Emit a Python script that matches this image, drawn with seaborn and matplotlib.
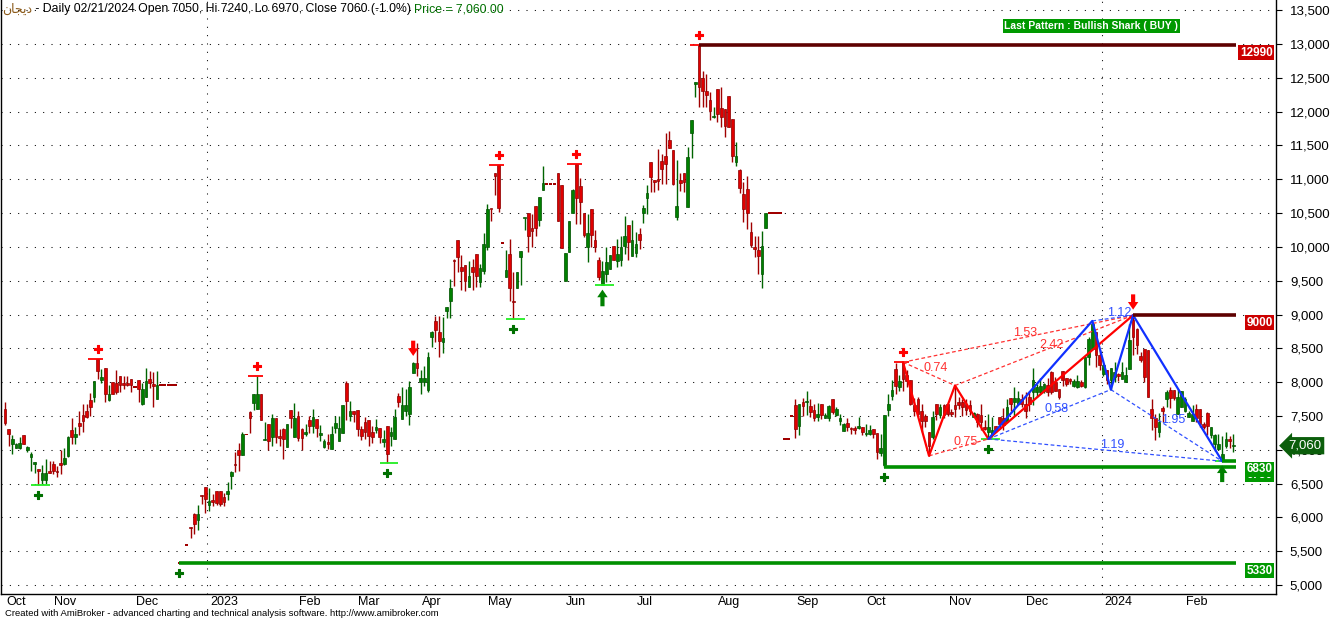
import numpy as np
import pandas as pd
import seaborn as sns
import matplotlib.pyplot as plt
from matplotlib import transforms

# month axis: first bar of each month and its label
month_labels = ['Oct', 'Nov', 'Dec', '2023', 'Feb', 'Mar', 'Apr', 'May', 'Jun',
                'Jul', 'Aug', 'Sep', 'Oct', 'Nov', 'Dec', '2024', 'Feb']
month_start = [0, 13, 35, 55, 79, 95, 112, 130, 151, 170, 192, 213, 232, 254, 275, 296, 318]
year_start = [55, 296]

# daily OHLC, one line per month
opens = [7600, 7300, 7090, 7020, 7020, 7220, 6990, 6900, 6795, 6710, 6560, 6560, 6690,
         6795, 6690, 6800, 6785, 6910, 7290, 7190, 7400, 7515, 7575, 7730, 7785, 8340, 8030, 8205, 7730, 8005, 7990, 8090, 7990, 7990, 8040,
         7930, 8025, 7670, 7785, 8040, 7970, 7755, 7960, 7960, 7960, 7960, 7960, 5330, 5330, 5590, 5860, 6050, 5955, 6335, 6445,
         6180, 6250, 6385, 6395, 6300, 6345, 6610, 6780, 6995, 6920, 7228, 7565, 7695, 7600, 7820, 7150, 7385, 7190, 7465, 7205, 7300, 7040, 7585, 7190,
         7500, 7300, 7240, 7435, 7350, 7450, 7220, 7040, 7120, 7005, 7325, 7130, 7255, 7990, 7505, 7580,
         7590, 7305, 7405, 7440, 7270, 7295, 7320, 7110, 7355, 7210, 7160, 7800, 7455, 7570, 7530, 8130, 8280,
         7995, 7995, 7885, 8670, 8900, 8735, 8590, 9055, 9205, 9805, 10100, 9705, 9730, 9400, 9705, 9895, 9475, 9650,
         10000, 10565, 11090, 11205, 10060, 9555, 9900, 9200, 9395, 9850, 10425, 10505, 10280, 10600, 10395, 10835, 10933, 10933, 10933, 11090, 10910,
         9495, 9920, 10500, 11220, 10895, 10505, 9995, 10565, 10105, 9810, 9430, 9600, 9675, 10020, 9790, 9800, 10020, 10330, 9860,
         9910, 10185, 10500, 10720, 11255, 10990, 11000, 11270, 11350, 11585, 11435, 10440, 10990, 11090, 10585, 11680, 12415, 12985, 12500, 12300, 12165, 11915,
         12335, 12055, 12040, 12235, 11890, 11250, 11130, 10785, 10855, 10225, 9995, 9960, 9600, 10280, 10500, 10500, 10500, 10500, 7160, 7160, 7500,
         7660, 7350, 7705, 7700, 7650, 7590, 7490, 7670, 7475, 7475, 7745, 7515, 7420, 7275, 7395, 7320, 7315, 7320, 7330,
         7240, 7240, 7305, 7250, 6950, 6770, 7590, 7800, 8200, 7925, 8295, 8100, 8025, 7655, 7755, 7580, 7505, 7270, 7185, 7680, 7520, 7655,
         7680, 7555, 7655, 7705, 7705, 7670, 7655, 7490, 7530, 7520, 7330, 7260, 7225, 7355, 7490, 7470, 7405, 7765, 7705, 7670, 7755,
         7680, 7775, 7850, 7850, 7850, 7875, 7965, 8150, 8000, 7900, 8160, 8065, 8050, 7950, 7925, 8000, 7925, 8370, 8495, 8745, 8395,
         8125, 8175, 8025, 8075, 8115, 8050, 8000, 8200, 8925, 8790, 8380, 8495, 8480, 7605, 7470, 7260, 7620, 7755, 7885, 7885, 7530, 7630,
         7580, 7490, 7430, 7605, 7605, 7380, 7540, 7225, 7085, 7010, 6840, 7060, 7160, 7050]
highs = [7700, 7300, 7220, 7100, 7190, 7220, 7055, 6970, 6820, 6710, 6775, 6860, 6830,
         6835, 6760, 6990, 7030, 7200, 7465, 7330, 7580, 7670, 7670, 7845, 8015, 8340, 8200, 8205, 7960, 8005, 8175, 8090, 8090, 8090, 8040,
         7930, 8025, 7990, 8205, 8165, 8155, 8165, 7960, 7960, 7960, 7960, 7960, 5330, 5330, 5590, 5860, 6065, 6180, 6335, 6445,
         6435, 6350, 6385, 6395, 6360, 6525, 6680, 6960, 7105, 7270, 7228, 7575, 7830, 8090, 7820, 7415, 7385, 7525, 7465, 7300, 7325, 7385, 7585, 7695,
         7575, 7325, 7385, 7500, 7600, 7450, 7365, 7155, 7230, 7350, 7500, 7500, 7665, 8020, 7725, 7580,
         7590, 7355, 7490, 7440, 7355, 7455, 7320, 7285, 7355, 7330, 7605, 7835, 7925, 7900, 8020, 8305, 8575,
         8185, 8245, 8440, 8760, 8985, 8985, 8960, 9105, 9525, 9820, 10100, 9885, 9730, 9785, 9820, 9895, 9750, 10200,
         10640, 10565, 11090, 11205, 10060, 9955, 10120, 9625, 9625, 9945, 10430, 10505, 10490, 10600, 10745, 11190, 10933, 10933, 10933, 11090, 10910,
         9915, 10390, 10860, 11220, 11020, 10505, 10490, 10565, 10255, 9850, 9785, 10005, 9875, 10020, 10120, 10155, 10450, 10330, 10400,
         10220, 10280, 10625, 10910, 11255, 10990, 11450, 11375, 11680, 11720, 11435, 11280, 11090, 11090, 11480, 11870, 12435, 12985, 12595, 12555, 12285, 12075,
         12335, 12360, 12040, 12235, 11890, 11545, 11155, 10955, 11055, 10365, 10155, 10155, 10240, 10500, 10500, 10500, 10500, 10500, 7160, 7160, 7500,
         7745, 7670, 7770, 7865, 7745, 7670, 7685, 7670, 7550, 7660, 7745, 7635, 7535, 7390, 7475, 7340, 7355, 7485, 7340,
         7380, 7365, 7305, 7250, 7235, 7515, 7830, 8025, 8280, 8100, 8295, 8175, 8025, 7765, 7785, 7680, 7530, 7270, 7580, 7680, 7680, 7680,
         7680, 7605, 7950, 7775, 7755, 7755, 7730, 7555, 7540, 7670, 7440, 7530, 7490, 7355, 7490, 7620, 7755, 7765, 7925, 7875, 7825,
         7850, 7875, 8215, 7975, 8065, 7985, 8065, 8165, 8075, 7900, 8160, 8065, 8065, 8050, 8100, 8025, 8370, 8670, 8905, 8745, 8470,
         8270, 8175, 8215, 8295, 8135, 8295, 8225, 8865, 8990, 8805, 8450, 8495, 8480, 7755, 7530, 7540, 7640, 7885, 7925, 7885, 7900, 7875,
         7775, 7580, 7655, 7680, 7605, 7405, 7555, 7340, 7235, 7235, 7210, 7260, 7200, 7240]
lows = [7370, 7060, 6940, 7020, 7005, 7080, 6970, 6690, 6660, 6475, 6490, 6490, 6660,
        6635, 6600, 6640, 6775, 6900, 7080, 7080, 7220, 7265, 7465, 7500, 7710, 8040, 7990, 7710, 7720, 7820, 7820, 7860, 7900, 7945, 7860,
        7930, 7710, 7660, 7785, 7920, 7635, 7755, 7960, 7960, 7960, 7960, 7960, 5330, 5330, 5590, 5690, 5755, 5815, 6200, 6065,
        6090, 6175, 6180, 6175, 6165, 6255, 6420, 6670, 6686, 6920, 7228, 7255, 7585, 7600, 7435, 7150, 6990, 7055, 7105, 7055, 6860, 7040, 7315, 7190,
        7130, 6995, 7205, 7255, 7255, 7190, 7130, 7030, 7005, 7005, 7255, 7130, 7255, 7440, 7430, 7405,
        7210, 7145, 7160, 7060, 7095, 7245, 7095, 7035, 6805, 7060, 7160, 7625, 7455, 7505, 7370, 8130, 8095,
        7825, 7940, 7850, 8515, 8590, 8365, 8425, 8950, 8950, 9425, 9625, 9360, 9350, 9400, 9360, 9410, 9400, 9600,
        9950, 10390, 10760, 10515, 10060, 9555, 9200, 8935, 9395, 9430, 10245, 9920, 9995, 10165, 10310, 10835, 10933, 10933, 10933, 10380, 9985,
        9495, 9920, 10500, 10340, 10340, 10145, 9775, 9995, 9920, 9505, 9430, 9480, 9675, 9800, 9710, 9720, 9900, 9800, 9860,
        9850, 9970, 10350, 10490, 10810, 10810, 10845, 10925, 10925, 11465, 10910, 10400, 10825, 10810, 10585, 11315, 12210, 12075, 12075, 12075, 11875, 11905,
        11840, 11780, 11630, 11770, 11250, 11200, 10795, 10365, 10265, 9995, 9845, 9600, 9395, 10280, 10500, 10500, 10500, 10500, 7160, 7160, 7500,
        7175, 7220, 7500, 7515, 7485, 7420, 7420, 7455, 7470, 7430, 7525, 7500, 7370, 7275, 7280, 7235, 7235, 7305, 7225,
        7210, 7225, 7175, 6870, 6915, 6750, 7505, 7730, 7825, 7875, 7875, 7925, 7655, 7505, 7505, 7260, 7330, 6910, 7160, 7440, 7470, 7470,
        7505, 7505, 7480, 7605, 7505, 7520, 7520, 7480, 7330, 7285, 7285, 7160, 7185, 7260, 7305, 7290, 7405, 7580, 7505, 7655, 7630,
        7470, 7580, 7655, 7785, 7825, 7835, 7800, 7825, 7865, 7755, 7950, 7950, 7975, 7930, 7915, 7925, 7915, 8260, 8470, 8225, 8175,
        8085, 7975, 7890, 8000, 8015, 8050, 8000, 8200, 8395, 8420, 8300, 8000, 7775, 7285, 7145, 7185, 7405, 7630, 7620, 7730, 7530, 7630,
        7555, 7480, 7420, 7405, 7330, 7305, 7225, 7175, 6985, 6995, 6830, 7025, 7030, 6970]
closes = [7390, 7230, 7160, 7090, 7100, 7090, 7045, 6930, 6820, 6680, 6650, 6650, 6660,
          6680, 6670, 6775, 6880, 7190, 7190, 7240, 7350, 7425, 7485, 7630, 8015, 8165, 8080, 7820, 7830, 7820, 7860, 7960, 7960, 7960, 7960,
          7930, 7895, 7895, 8015, 7990, 7945, 7960, 7960, 7960, 7960, 7960, 7960, 5330, 5330, 5590, 5840, 5905, 6050, 6320, 6265,
          6240, 6230, 6215, 6200, 6230, 6385, 6670, 6770, 6920, 7240, 7228, 7475, 7830, 7830, 7435, 7160, 7130, 7475, 7190, 7180, 7155, 7385, 7475, 7475,
          7180, 7180, 7260, 7350, 7485, 7325, 7255, 7130, 7090, 7230, 7400, 7315, 7665, 7720, 7570, 7530,
          7305, 7210, 7260, 7210, 7185, 7340, 7185, 7165, 6940, 7260, 7490, 7700, 7655, 7655, 7935, 8280, 8205,
          8055, 8055, 8365, 8735, 8770, 8615, 8660, 9105, 9390, 9790, 9845, 9640, 9490, 9575, 9625, 9575, 9695, 10050,
          10560, 10560, 11045, 10580, 10060, 9660, 9395, 9180, 9625, 9945, 10430, 10155, 10235, 10280, 10745, 10945, 10933, 10933, 10933, 10380, 9985,
          9915, 10380, 10845, 10720, 10660, 10170, 10205, 10170, 9995, 9555, 9650, 9775, 9875, 9800, 9900, 10005, 10155, 10070, 10095,
          10045, 10095, 10580, 10795, 11030, 10960, 10970, 11155, 11230, 11465, 10935, 10600, 10945, 10960, 11335, 11870, 12435, 12360, 12300, 12250, 12005, 11940,
          11965, 11915, 11795, 11770, 11350, 11350, 10870, 10560, 10500, 10035, 9970, 9870, 10020, 10500, 10500, 10500, 10500, 10500, 7160, 7160, 7500,
          7305, 7670, 7640, 7705, 7565, 7475, 7525, 7515, 7515, 7645, 7565, 7600, 7470, 7380, 7330, 7305, 7290, 7350, 7260,
          7255, 7290, 7235, 6965, 7030, 7515, 7675, 7885, 7950, 8015, 8050, 8015, 7680, 7580, 7530, 7430, 7430, 7060, 7480, 7530, 7630, 7520,
          7530, 7530, 7605, 7655, 7630, 7590, 7570, 7540, 7405, 7405, 7305, 7340, 7290, 7285, 7380, 7370, 7630, 7680, 7765, 7765, 7670,
          7580, 7680, 8025, 7925, 7950, 7975, 7850, 7850, 7875, 7775, 8025, 7975, 8015, 8020, 8015, 7950, 8370, 8645, 8865, 8395, 8250,
          8250, 8025, 8215, 8150, 8085, 8150, 8110, 8630, 8670, 8545, 8320, 8075, 7785, 7470, 7330, 7405, 7580, 7850, 7765, 7765, 7775, 7875,
          7755, 7540, 7530, 7470, 7380, 7330, 7355, 7340, 7225, 7085, 6935, 7160, 7130, 7060]

# swing points found by the indicator (bar numbers)
peaks = [25, 68, 133, 154, 187, 242]
troughs = [9, 47, 103, 137, 237, 265]
trough_lines = [9, 103, 137, 161, 265, 328]
sell_arrows = [110, 304]
buy_arrows = [161, 328]

# harmonic patterns X, A, B, C, D
red_bars = [242, 249, 256, 265, 304]
red_prices = [8295, 6910, 7950, 7160, 8990]
red_ratios = ['0.74', '0.75', '2.42', '1.53']
blue_bars = [265, 293, 298, 304, 328]
blue_prices = [7160, 8905, 7890, 8990, 6830]
blue_ratios = ['0.58', '1.12', '1.95', '1.19']
ratio_legs = [(0, 2), (1, 3), (2, 4), (0, 4)]

# support / resistance levels
level_prices = [12990, 9000, 6750, 6830, 5330]
level_start = [187, 304, 237, 328, 47]
level_kind = ['res', 'res', 'sup', 'sup', 'sup']

symbol = '\ufee5\ufe8e\ufea0\ufbfe\ufea9'  # دیجان, glyphs joined in display order
pattern_name = 'Last Pattern : Bullish Shark ( BUY )'

sns.set_theme(style='white')
plt.rcParams['font.family'] = ['Liberation Sans', 'DejaVu Sans']

df = pd.DataFrame({'open': opens, 'high': highs, 'low': lows, 'close': closes})
df['bar'] = np.arange(len(df))
n = len(df)

fig = plt.figure(figsize=(13.36, 6.19), dpi=100)
ax = fig.add_axes([0.5 / 1336, 25 / 619, 1275.5 / 1336, 594 / 619])
ax.set_facecolor('white')

up = df.close > df.open
flat = df.close == df.open
body_col = np.where(up, '#008000', '#e00000')
edge_col = np.where(up, '#005000', '#8a0000')
wick_col = np.where(up, '#006400', '#a00000')

ax.vlines(df.bar, df.low, df.high, colors=wick_col, lw=1.0, zorder=2)
bottom = np.minimum(df.open, df.close)
height = np.maximum((df.close - df.open).abs(), 14)
ax.bar(df.bar[~flat], height[~flat], bottom=bottom[~flat], width=0.72,
       color=body_col[~flat], edgecolor=edge_col[~flat], lw=0.5, zorder=2.5)
ax.bar(df.bar[flat], 24, bottom=df.open[flat] - 12, width=0.9,
       color='#a00000', lw=0, zorder=2.5)

# dotted grid
dots = (0, (1, 7))
for v in range(5000, 14000, 500):
    ax.axhline(v, color='black', lw=0.75, ls=dots, zorder=0.5)
for y in year_start:
    ax.axvline(y - 0.5, color='black', lw=0.75, ls=dots, zorder=0.5)

# swing markers
sns.scatterplot(x=peaks, y=[highs[i] + 150 for i in peaks], marker='P', s=34,
                color='#ff0000', edgecolor='#ff0000', linewidth=0.8, ax=ax, zorder=5)
sns.scatterplot(x=troughs, y=[lows[i] - 150 for i in troughs], marker='P', s=34,
                color='#007000', edgecolor='#007000', linewidth=0.8, ax=ax, zorder=5)
for i in peaks:
    ax.hlines(highs[i], i - 2.5, i + 1.5, color='#ff0000', lw=1.3, zorder=3)
for i in trough_lines:
    ax.hlines(lows[i], i - 2, i + 3, color='#22ee22', lw=1.3, zorder=3)

arrow = 'simple,head_length=0.55,head_width=0.75,tail_width=0.3'
for i in sell_arrows:
    ax.annotate('', xy=(i, highs[i]), xytext=(0, 15), textcoords='offset points',
                arrowprops=dict(arrowstyle=arrow, fc='#ff0000', ec='none',
                                shrinkA=0, shrinkB=4, mutation_scale=10), zorder=5)
for i in buy_arrows:
    ax.annotate('', xy=(i, lows[i]), xytext=(0, -15), textcoords='offset points',
                arrowprops=dict(arrowstyle=arrow, fc='#008000', ec='none',
                                shrinkA=0, shrinkB=3, mutation_scale=10), zorder=5)

# harmonic patterns
for bars, prices, ratios, col, dcol in [(red_bars, red_prices, red_ratios, '#ff0000', '#ff3030'),
                                         (blue_bars, blue_prices, blue_ratios, '#1030ff', '#3050ff')]:
    sns.lineplot(x=bars, y=prices, sort=False, estimator=None, color=col, lw=1.6,
                 ax=ax, zorder=4)
    for (a, b), r in zip(ratio_legs, ratios):
        ax.plot([bars[a], bars[b]], [prices[a], prices[b]], color=dcol, lw=0.9,
                ls=(0, (3, 2)), zorder=3.5)
        ax.annotate(r, xy=((bars[a] + bars[b]) / 2, (prices[a] + prices[b]) / 2),
                    xytext=(5, 4), textcoords='offset points', ha='center', va='center',
                    fontsize=9, color=dcol, zorder=6)

# levels and their price boxes
line_end = n - 0.3
for p, s, k in zip(level_prices, level_start, level_kind):
    ax.hlines(p, s, line_end, color='#5e0000' if k == 'res' else '#009000',
              lw=2.6, zorder=4.5)
for p, k in sorted(zip(level_prices, level_kind), key=lambda t: t[0] == 6830):
    ax.annotate(str(p), xy=(1, p), xycoords=('axes fraction', 'data'),
                xytext=(-2.5, -1.5), textcoords='offset points', ha='right', va='top',
                fontsize=8.5, fontweight='bold', color='white',
                bbox=dict(boxstyle='square,pad=0.12', fc='#cc0000' if k == 'res' else '#009900', ec='none'),
                zorder=7)

ax.annotate(f'{closes[-1]:,}', xy=(1, closes[-1]), xycoords=('axes fraction', 'data'),
            xytext=(9, 0), textcoords='offset points', ha='left', va='center',
            fontsize=9.5, color='white', annotation_clip=False,
            bbox=dict(boxstyle='larrow,pad=0.2', fc='#0b5e0b', ec='none'), zorder=7)

ax.text(1178 / 1276, 1 - 26 / 594, pattern_name, transform=ax.transAxes, ha='right',
        va='center', fontsize=7.5, fontweight='bold', color='white',
        bbox=dict(boxstyle='square,pad=0.15', fc='#009900', ec='none'), zorder=7)

# axes
ax.set_xlim(-1.21, 342.5)
ax.set_ylim(4867, 13651)
ax.set_xticks([m - 0.5 for m in month_start])
ax.set_xticklabels(month_labels, ha='left', fontsize=9)
ax.tick_params(axis='x', direction='out', length=4, width=0.8, pad=-2.5, colors='black')
shift = transforms.ScaledTranslation(2 / 72, 0, fig.dpi_scale_trans)
for lab in ax.get_xticklabels():
    lab.set_transform(lab.get_transform() + shift)
ax.yaxis.tick_right()
yt = list(range(5000, 14000, 500))
ax.set_yticks(yt)
ax.set_yticklabels([f'{v:,}' for v in yt], fontsize=9.5)
ax.tick_params(axis='y', direction='out', length=4, width=0.8, pad=6, colors='black')
for side in ['left', 'right', 'bottom']:
    ax.spines[side].set_visible(True)
    ax.spines[side].set_color('black')
    ax.spines[side].set_linewidth(1.0)
ax.spines['top'].set_visible(False)
ax.set_xlabel('')
ax.set_ylabel('')

# title line
t1 = fig.text(2 / 1336, 1 - 9 / 619, symbol, fontsize=9, color='#8b5a1a', va='center',
              family=['DejaVu Sans'])
t2 = ax.annotate(f' - Daily 02/21/2024 Open {opens[-1]}, Hi {highs[-1]}, Lo {lows[-1]}, '
                 f'Close {closes[-1]} ({(closes[-1] / closes[-2] - 1) * 100:.1f}%) ',
                 xy=(1, 0.5), xycoords=t1, va='center', ha='left', fontsize=8.8, color='black')
ax.annotate(f'Price = {closes[-1]:,.2f}', xy=(1, 0.5), xycoords=t2, va='center', ha='left',
            fontsize=8.8, color='#007000')

fig.text(5 / 1336, 5.5 / 619,
         'Created with AmiBroker - advanced charting and technical analysis software. http://www.amibroker.com',
         fontsize=6.8, va='center', color='black')

fig.savefig('out.png', dpi=100, facecolor='white')
